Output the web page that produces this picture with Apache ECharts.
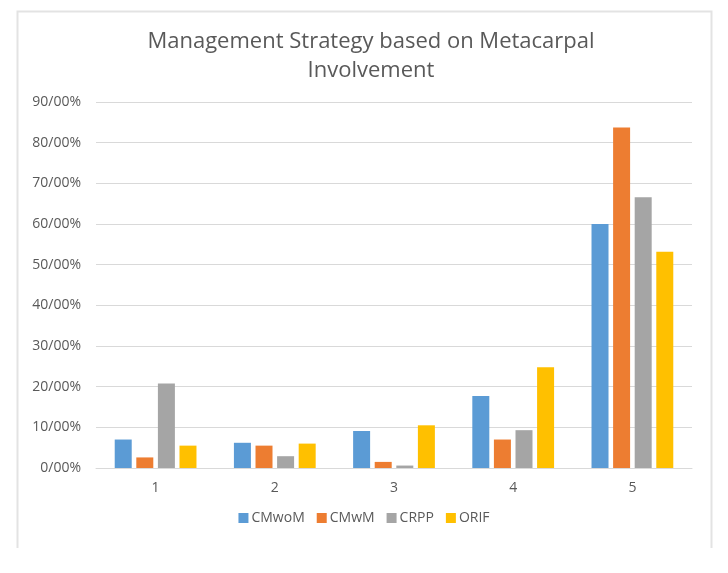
<!DOCTYPE html>
<html>
<head>
<meta charset="utf-8">
<script src="https://cdn.jsdelivr.net/npm/echarts@6/dist/echarts.min.js"></script>
<style>html,body{margin:0;padding:0;background:#fff;}#c{width:728px;height:573px;}</style>
</head>
<body>
<div id="c"></div>
<script>
const categories = ['1', '2', '3', '4', '5'];
const seriesNames = ['CMwoM', 'CMwM', 'CRPP', 'ORIF'];
const cmwom = [7.0, 6.2, 9.1, 17.7, 60.0];
const cmwm = [2.6, 5.5, 1.5, 7.0, 83.7];
const crpp = [20.8, 2.9, 0.6, 9.3, 66.6];
const orif = [5.5, 6.0, 10.5, 24.8, 53.2];
const colors = ['#5b9bd5', '#ed7d31', '#a5a5a5', '#ffc000'];
const values = [cmwom, cmwm, crpp, orif];

const chart = echarts.init(document.getElementById('c'), null, {renderer: 'canvas'});
const font = '"Open Sans", "Liberation Sans", sans-serif';
chart.setOption({
  animation: false,
  backgroundColor: '#fff',
  title: {
    text: 'Management Strategy based on Metacarpal\nInvolvement',
    left: 366, top: 22, textAlign: 'center',
    textStyle: {fontFamily: font, fontSize: 22, fontWeight: 'normal', color: '#595959', lineHeight: 29}
  },
  legend: {
    data: seriesNames, bottom: 43, left: 'center',
    itemWidth: 10, itemHeight: 10, itemGap: 12, icon: 'rect',
    textStyle: {fontFamily: font, fontSize: 14, color: '#595959', padding: [0, 0, 0, -2]}
  },
  grid: {left: 96, right: 36, top: 102, bottom: 105, containLabel: false},
  xAxis: {
    type: 'category', data: categories,
    axisLine: {lineStyle: {color: '#d9d9d9'}},
    axisTick: {show: false},
    axisLabel: {fontFamily: font, fontSize: 14, color: '#595959', margin: 13}
  },
  yAxis: {
    type: 'value', min: 0, max: 90, interval: 10,
    axisLine: {show: false}, axisTick: {show: false},
    splitLine: {lineStyle: {color: '#d9d9d9', width: 1}},
    axisLabel: {fontFamily: font, fontSize: 14, color: '#595959', margin: 15,
      formatter: v => v + '/00%'}
  },
  series: seriesNames.map((n, i) => ({
    name: n, type: 'bar', data: values[i], barWidth: 17, barGap: '27%',
    itemStyle: {color: colors[i]}
  })),
  graphic: [
    {type: 'polyline', shape: {points: [[17.5, 548], [17.5, 11.5], [711.5, 11.5], [711.5, 548]]},
     style: {stroke: '#e3e3e3', lineWidth: 2, fill: null}, silent: true}
  ]
});
</script>
</body>
</html>
